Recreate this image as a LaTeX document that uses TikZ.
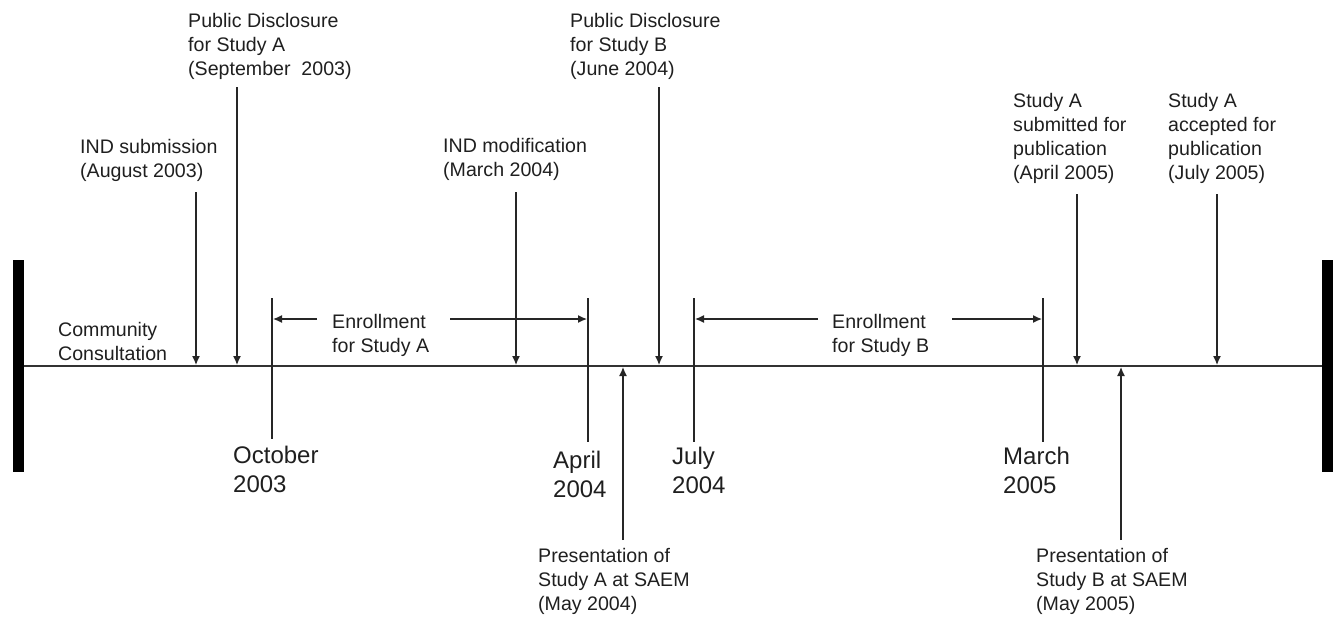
\documentclass[tikz,border=0pt]{standalone}
\usepackage{fontspec}
\setmainfont{Liberation Sans}
\usetikzlibrary{arrows.meta}
\begin{document}
\begin{tikzpicture}[x=1pt,y=-1pt,
  lbl/.style={inner sep=0pt, anchor=base west, align=left, text=black!88, font=\fontsize{19.6}{24}\selectfont},
  datelbl/.style={inner sep=0pt, anchor=base west, align=left, text=black!88, font=\fontsize{24}{29}\selectfont},
  bar/.style={fill=black, draw=none, minimum width=11pt, minimum height=212pt, inner sep=0pt},
  tickline/.style={line width=1.3pt, black!85},
  evt/.style={line width=1.3pt, black!85, -{Latex[length=9pt,width=8pt]}},
  axis/.style={line width=2pt, black!80}]
\useasboundingbox (0,0) rectangle (1335,616);

% end bars and main axis
\node[bar] (lbar) at (18,366) {};
\node[bar] (rbar) at (1327.5,366) {};
\draw[axis] (lbar.east) -- (rbar.west);

% labels above (anchored at the baseline of the last line)
\node[lbl] (indsubL) at (80,177) {IND submission\\(August 2003)};
\node[lbl] (pdAL) at (188,75) {Public Disclosure\\for Study A\\(September~ 2003)};
\node[lbl] (indmodL) at (443,176) {IND modification\\(March 2004)};
\node[lbl] (pdBL) at (570,75) {Public Disclosure\\for Study B\\(June 2004)};
\node[lbl] (subAL) at (1013,179) {Study A\\submitted for\\publication\\(April 2005)};
\node[lbl] (accAL) at (1168,179) {Study A\\accepted for\\publication\\(July 2005)};
\node[lbl] (commL) at (58,360) {Community\\Consultation};
\node[lbl] (enrAL) at (332,352) {Enrollment\\for Study A};
\node[lbl] (enrBL) at (832,352) {Enrollment\\for Study B};
\node[lbl] (presAL) at (538,610) {Presentation of\\Study A at SAEM\\(May 2004)};
\node[lbl] (presBL) at (1036,610) {Presentation of\\Study B at SAEM\\(May 2005)};

% date labels
\node[datelbl] (octL) at (233,492) {October\\2003};
\node[datelbl] (aprL) at (553,497) {April\\2004};
\node[datelbl] (julL) at (672,493) {July\\2004};
\node[datelbl] (marL) at (1003,493) {March\\2005};

% event arrows from above
\coordinate (indsubT) at (196,192); \coordinate (indsubB) at (196,365);
\coordinate (pdAT) at (237,87);     \coordinate (pdAB) at (237,365);
\coordinate (indmodT) at (516,192); \coordinate (indmodB) at (516,365);
\coordinate (pdBT) at (659,87);     \coordinate (pdBB) at (659,365);
\coordinate (subAT) at (1077,194);  \coordinate (subAB) at (1077,365);
\coordinate (accAT) at (1217,194);  \coordinate (accAB) at (1217,365);
\draw[evt] (indsubT) -- (indsubB);
\draw[evt] (pdAT) -- (pdAB);
\draw[evt] (indmodT) -- (indmodB);
\draw[evt] (pdBT) -- (pdBB);
\draw[evt] (subAT) -- (subAB);
\draw[evt] (accAT) -- (accAB);

% event arrows from below
\coordinate (presAT) at (623,367); \coordinate (presAB) at (623,540);
\coordinate (presBT) at (1121,367); \coordinate (presBB) at (1121,540);
\draw[evt] (presAB) -- (presAT);
\draw[evt] (presBB) -- (presBT);

% date ticks
\coordinate (octT) at (272,298); \coordinate (octB) at (272,439);
\coordinate (aprT) at (588,298); \coordinate (aprB) at (588,442);
\coordinate (julT) at (694,298); \coordinate (julB) at (694,442);
\coordinate (marT) at (1043,298); \coordinate (marB) at (1043,442);
\draw[tickline] (octT) -- (octB);
\draw[tickline] (aprT) -- (aprB);
\draw[tickline] (julT) -- (julB);
\draw[tickline] (marT) -- (marB);

% enrollment spans
\coordinate (enrA1) at (317,319); \coordinate (enrA0) at (273,319);
\coordinate (enrA2) at (450,319); \coordinate (enrA3) at (587,319);
\coordinate (enrB1) at (818,319); \coordinate (enrB0) at (695,319);
\coordinate (enrB2) at (952,319); \coordinate (enrB3) at (1042,319);
\draw[evt] (enrA1) -- (enrA0);
\draw[evt] (enrA2) -- (enrA3);
\draw[evt] (enrB1) -- (enrB0);
\draw[evt] (enrB2) -- (enrB3);
\end{tikzpicture}
\end{document}
